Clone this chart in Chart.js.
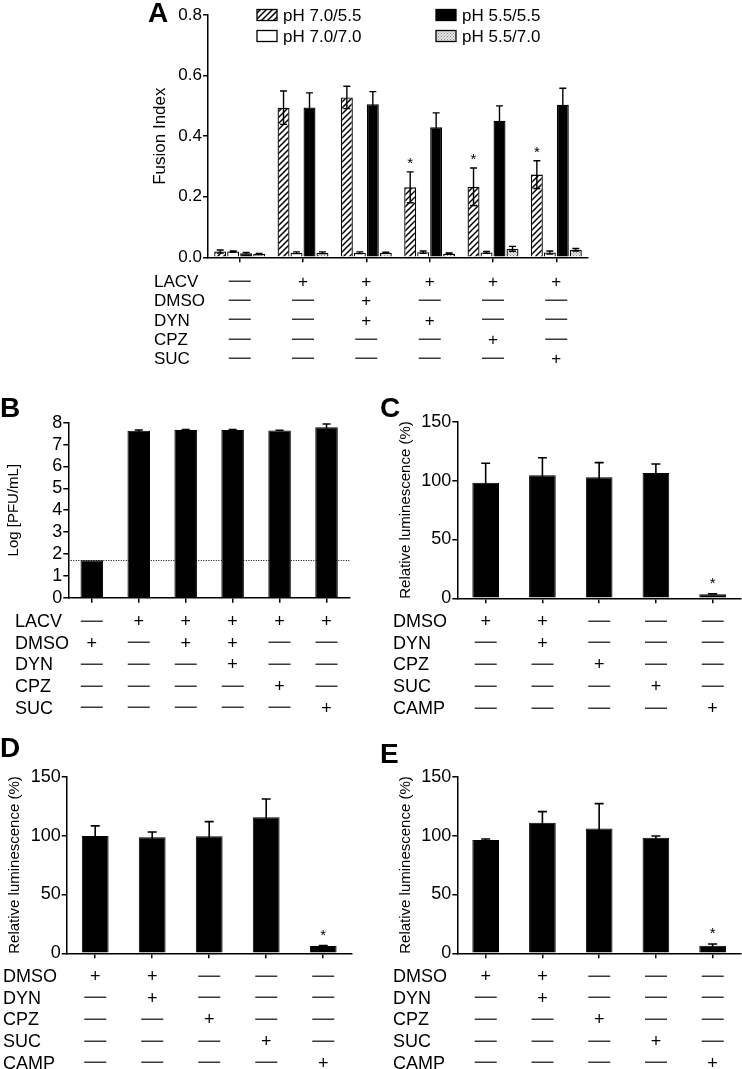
<!DOCTYPE html>
<html><head><meta charset="utf-8">
<script src="https://cdn.jsdelivr.net/npm/chart.js@4.4.1/dist/chart.umd.min.js"></script>
<style>
html,body{margin:0;padding:0;background:#fff;}
#wrap{position:relative;width:742px;height:1069px;overflow:hidden;background:#fff;}
#wrap canvas{position:absolute;left:0;top:0;}
</style></head><body>
<div id="wrap">
<canvas id="cA" width="742" height="1069"></canvas>
<canvas id="cB" width="742" height="1069"></canvas>
<canvas id="cC" width="742" height="1069"></canvas>
<canvas id="cD" width="742" height="1069"></canvas>
<canvas id="cE" width="742" height="1069"></canvas>
</div>
<script>
// ---------------- Panel A : fusion index ----------------
const conditionsA = ['Mock','LACV','LACV+DMSO+DYN','LACV+DYN','LACV+CPZ','LACV+SUC'];
const seriesNamesA = ['pH 7.0/5.5','pH 7.0/7.0','pH 5.5/5.5','pH 5.5/7.0'];
const fusion_70_55     = [0.019, 0.494, 0.528, 0.231, 0.233, 0.273];
const fusion_70_55_err = [0.005, 0.055, 0.037, 0.051, 0.062, 0.046];
const fusion_70_70     = [0.019, 0.015, 0.015, 0.017, 0.016, 0.016];
const fusion_70_70_err = [0.002, 0.003, 0.003, 0.004, 0.003, 0.005];
const fusion_55_55     = [0.013, 0.495, 0.505, 0.429, 0.451, 0.504];
const fusion_55_55_err = [0.003, 0.048, 0.042, 0.048, 0.049, 0.054];
const fusion_55_70     = [0.011, 0.015, 0.015, 0.012, 0.028, 0.025];
const fusion_55_70_err = [0.002, 0.003, 0.002, 0.002, 0.008, 0.004];
const starsA = [false, false, false, true, true, true];
const ticksA = [0, 0.2, 0.4, 0.6, 0.8];
const rowsA  = ['LACV','DMSO','DYN','CPZ','SUC'];
const signsA = ['-+++++','--+---','--++--','----+-','-----+'];

// ---------------- Panel B : virus titer ----------------
const conditionsB = ['DMSO','LACV','LACV+DMSO','LACV+DMSO+DYN','LACV+CPZ','LACV+SUC'];
const titerB      = [1.71, 7.63, 7.67, 7.67, 7.64, 7.79];
const titerB_err  = [0, 0.04, 0.02, 0.02, 0.01, 0.15];
const detectionLimitB = 1.71;
const ticksB = [0, 1, 2, 3, 4, 5, 6, 7, 8];
const rowsB  = ['LACV','DMSO','DYN','CPZ','SUC'];
const signsB = ['-+++++','+-++--','---+--','----+-','-----+'];

// ---------------- Panels C, D, E : relative luminescence ----------------
const conditionsCDE = ['DMSO','DMSO+DYN','CPZ','SUC','CAMP'];
const lumC     = [98.2, 104.5, 102.8, 106.4, 3.4];
const lumC_err = [16.5, 14.9, 12.4, 7.7, 0.4];
const lumD     = [99.6, 98.5, 99.4, 115.5, 6.2];
const lumD_err = [8.6, 4.5, 12.4, 15.5, 0.3];
const lumE     = [96.2, 110.9, 105.9, 98.2, 6.4];
const lumE_err = [0.9, 9.4, 21.2, 1.4, 1.5];
const starsCDE = [false, false, false, false, true];
const ticksLum = [0, 50, 100, 150];
const rowsCDE  = ['DMSO','DYN','CPZ','SUC','CAMP'];
const signsCDE = ['++---','-+---','--+--','---+-','----+'];

// ------------------------------------------------------------------------
const FONT = '"Liberation Sans", Arial, Helvetica, sans-serif';

function hatchPattern() {
  const c = document.createElement('canvas'); c.width = 6; c.height = 6;
  const g = c.getContext('2d');
  g.fillStyle = '#fff'; g.fillRect(0, 0, 6, 6);
  g.strokeStyle = '#000'; g.lineWidth = 1.5;
  g.beginPath();
  g.moveTo(-1, 7); g.lineTo(7, -1);
  g.moveTo(-1, 1); g.lineTo(1, -1);
  g.moveTo(5, 7); g.lineTo(7, 5);
  g.stroke();
  return g.createPattern(c, 'repeat');
}
function dotPattern() {
  const c = document.createElement('canvas'); c.width = 3; c.height = 3;
  const g = c.getContext('2d');
  g.fillStyle = '#e6e6e6'; g.fillRect(0, 0, 3, 3);
  g.fillStyle = '#8a8a8a'; g.fillRect(0, 0, 1, 1); g.fillRect(1.5, 1.5, 1, 1);
  return g.createPattern(c, 'repeat');
}

const errorBarPlugin = {
  id: 'errorBars',
  afterDatasetsDraw(chart, args, opts) {
    const ctx = chart.ctx, ys = chart.scales.y;
    chart.data.datasets.forEach((ds, di) => {
      if (!ds.errors) return;
      const meta = chart.getDatasetMeta(di);
      meta.data.forEach((bar, i) => {
        const v = ds.data[i], e = ds.errors[i];
        const x = bar.x;
        const yt = ys.getPixelForValue(v + e);
        const yb = ys.getPixelForValue(Math.max(v - e, 0));
        const cap = opts.cap || 8;
        ctx.save();
        ctx.strokeStyle = '#000'; ctx.lineWidth = opts.lineWidth || 1.5;
        if (e > 0) {
          ctx.beginPath();
          ctx.moveTo(x, yb); ctx.lineTo(x, yt);
          ctx.moveTo(x - cap / 2, yt); ctx.lineTo(x + cap / 2, yt);
          if (ds.lowerCap) { ctx.moveTo(x - cap / 2, yb); ctx.lineTo(x + cap / 2, yb); }
          ctx.stroke();
        }
        if (ds.stars && ds.stars[i]) {
          ctx.fillStyle = '#000';
          ctx.font = '15px ' + FONT;
          ctx.textAlign = 'center'; ctx.textBaseline = 'alphabetic';
          ctx.fillText('*', x, yt - (opts.starGap || 12) + 8.5);
        }
        ctx.restore();
      });
    });
  }
};

const decorPlugin = {
  id: 'decor',
  beforeDatasetsDraw(chart, args, opts) {
    if (opts.limit === undefined) return;
    const ctx = chart.ctx, ys = chart.scales.y, a = chart.chartArea;
    const y = Math.round(ys.getPixelForValue(opts.limit)) + 0.5;
    ctx.save();
    ctx.strokeStyle = '#000'; ctx.lineWidth = 1; ctx.setLineDash([1, 1.5]);
    ctx.beginPath(); ctx.moveTo(a.left, y); ctx.lineTo(a.right, y); ctx.stroke();
    ctx.restore();
  },
  afterDraw(chart, args, opts) {
    const ctx = chart.ctx, xs = chart.scales.x;
    ctx.save();
    ctx.fillStyle = '#000';
    ctx.textBaseline = 'alphabetic';
    // panel letter
    ctx.font = 'bold 28px ' + FONT; ctx.textAlign = 'left';
    ctx.fillText(opts.letter, opts.letterX, opts.letterY);
    // treatment table
    const fs = opts.tableFont;
    opts.rows.forEach((name, r) => {
      const cy = opts.rowY[r];
      ctx.font = fs + 'px ' + FONT; ctx.fillStyle = '#000'; ctx.textAlign = 'left';
      ctx.fillText(name, opts.labelX, cy + 0.358 * fs);
      const s = opts.signs[r];
      for (let i = 0; i < s.length; i++) {
        const px = xs.getPixelForValue(i);
        ctx.textAlign = 'center';
        if (s[i] === '+') {
          ctx.font = fs + 'px ' + FONT; ctx.fillStyle = '#000';
          ctx.fillText('+', px, cy + 0.353 * fs);
        } else {
          ctx.font = '22px ' + FONT; ctx.fillStyle = '#3a3a3a';
          ctx.fillText('\u2014', px, cy + 5.8);
        }
      }
    });
    // legend (panel A)
    if (opts.legend) {
      ctx.font = opts.legend.font + 'px ' + FONT; ctx.textAlign = 'left';
      opts.legend.items.forEach(it => {
        const ds = chart.data.datasets[it.ds];
        ctx.fillStyle = ds.backgroundColor;
        ctx.fillRect(it.x, it.y - 5.5, 20, 11);
        ctx.strokeStyle = '#000'; ctx.lineWidth = 1.3;
        ctx.strokeRect(it.x, it.y - 5.5, 20, 11);
        ctx.fillStyle = '#000';
        ctx.fillText(ds.label, it.x + 26, it.y + 0.358 * opts.legend.font);
      });
    }
    ctx.restore();
  }
};

function xScale() {
  return {
    offset: true,
    grid: { display: true, drawOnChartArea: false, drawTicks: true, tickLength: 5, offset: false, color: '#000', lineWidth: 1.5 },
    border: { display: true, color: '#000', width: 1.5 },
    ticks: { display: false, autoSkip: false },
    afterFit(s) { s.height = 10; }
  };
}
function yScale(ticks, title, tickFont, titleFont, width, fmt) {
  return {
    min: ticks[0], max: ticks[ticks.length - 1],
    ticks: { stepSize: ticks[1] - ticks[0], autoSkip: false, color: '#000', padding: 1, font: { family: FONT, size: tickFont },
             callback: fmt || (v => String(v)) },
    grid: { display: true, drawOnChartArea: false, drawTicks: true, tickLength: 5, color: '#000', lineWidth: 1.5 },
    border: { display: true, color: '#000', width: 1.5 },
    title: { display: true, text: title, color: '#000', font: { family: FONT, size: titleFont }, padding: { top: 4, bottom: 4 } },
    afterFit(s) { s.width = width; }
  };
}
function baseOptions(padding, decor, err) {
  return {
    responsive: false, animation: false, events: [],
    layout: { padding },
    plugins: { legend: { display: false }, tooltip: { enabled: false }, decor, errorBars: err },
  };
}
function blackDataset(label, data, errors, stars, bp) {
  return { label, data, errors, stars, backgroundColor: '#000', borderColor: '#000', borderWidth: 1,
           categoryPercentage: 1, barPercentage: bp };
}

// ---- Panel A ----
const hatch = hatchPattern(), dots = dotPattern();
const optA = baseOptions({ left: 146, right: 154, top: 15, bottom: 801.7 }, {
  letter: 'A', letterX: 148, letterY: 22,
  rows: rowsA, signs: signsA, labelX: 154, rowY: [280.7, 300, 319.5, 339, 358.3], tableFont: 17,
  legend: { font: 17, items: [ { ds: 0, x: 257, y: 15 }, { ds: 2, x: 436, y: 15 }, { ds: 1, x: 257, y: 36 }, { ds: 3, x: 436, y: 36 } ] }
}, { cap: 7, lineWidth: 1.4, starGap: 12 });
optA.scales = { x: xScale(), y: yScale(ticksA, 'Fusion Index', 17, 17, 62, v => v.toFixed(1)) };
const barA = { borderColor: '#000', borderWidth: 1.3, categoryPercentage: 0.82, barPercentage: 0.92 };
new Chart(document.getElementById('cA'), {
  type: 'bar',
  data: { labels: conditionsA, datasets: [
    Object.assign({ label: seriesNamesA[0], data: fusion_70_55, errors: fusion_70_55_err, stars: starsA, lowerCap: true, backgroundColor: hatch }, barA),
    Object.assign({ label: seriesNamesA[1], data: fusion_70_70, errors: fusion_70_70_err, lowerCap: true, backgroundColor: '#fff' }, barA),
    Object.assign({ label: seriesNamesA[2], data: fusion_55_55, errors: fusion_55_55_err, backgroundColor: '#000' }, barA),
    Object.assign({ label: seriesNamesA[3], data: fusion_55_70, errors: fusion_55_70_err, lowerCap: true, backgroundColor: dots }, barA)
  ] },
  options: optA,
  plugins: [decorPlugin, errorBarPlugin]
});

// ---- Panel B ----
const optB = baseOptions({ left: 1, right: 392, top: 422.7, bottom: 461.3 }, {
  letter: 'B', letterX: 0, letterY: 417, limit: detectionLimitB,
  rows: rowsB, signs: signsB, labelX: 15, rowY: [621, 642.5, 664, 686, 707.5], tableFont: 18
}, { cap: 8, lineWidth: 1.5, starGap: 14 });
optB.scales = { x: xScale(), y: yScale(ticksB, 'Log [PFU/mL]', 18, 15, 67.3) };
new Chart(document.getElementById('cB'), {
  type: 'bar',
  data: { labels: conditionsB, datasets: [ blackDataset('Log PFU/mL', titerB, titerB_err, null, 0.48) ] },
  options: optB,
  plugins: [decorPlugin, errorBarPlugin]
});

// ---- Panels C, D, E ----
function lumChart(id, letter, lx, ly, values, errs, padding, yWidth, labelX, rowY) {
  const o = baseOptions(padding, {
    letter, letterX: lx, letterY: ly,
    rows: rowsCDE, signs: signsCDE, labelX, rowY, tableFont: 18
  }, { cap: 9, lineWidth: 1.6, starGap: 14 });
  o.scales = { x: xScale(), y: yScale(ticksLum, 'Relative luminescence (%)', 18, 15, yWidth) };
  new Chart(document.getElementById(id), {
    type: 'bar',
    data: { labels: conditionsCDE, datasets: [ blackDataset('Relative luminescence (%)', values, errs, starsCDE, 0.47) ] },
    options: o,
    plugins: [decorPlugin, errorBarPlugin]
  });
}
lumChart('cC', 'C', 380, 417, lumC, lumC_err, { left: 392.5, right: 1, top: 421.7, bottom: 460.7 }, 64.8, 393, [621, 642.5, 664, 686, 707.8]);
lumChart('cD', 'D', 0, 757, lumD, lumD_err, { left: 2, right: 390.3, top: 776.7, bottom: 105.7 }, 64.7, 3, [976, 997.5, 1019, 1041, 1062.5]);
lumChart('cE', 'E', 380, 763, lumE, lumE_err, { left: 392.5, right: 1, top: 776.7, bottom: 105.7 }, 64.8, 393, [976, 997.5, 1019, 1041, 1062.5]);
</script>
</body></html>
